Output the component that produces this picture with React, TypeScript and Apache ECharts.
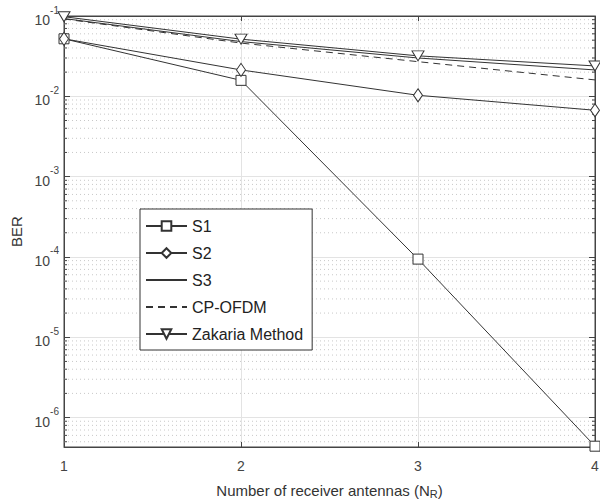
import React, { useEffect, useRef } from "react";
import * as echarts from "echarts";

const antennas = [1, 2, 3, 4];
const s1 = [0.052, 0.0158, 9.4e-5, 4.4e-7];
const s2 = [0.052, 0.0213, 0.0103, 0.0067];
const s3 = [0.093, 0.048, 0.0300, 0.0213];
const cpOfdm = [0.092, 0.046, 0.027, 0.016];
const zakaria = [0.098, 0.0515, 0.0319, 0.0239];
const seriesNames = ["S1", "S2", "S3", "CP-OFDM", "Zakaria Method"];

const yMin = 4.3e-7;
const yMax = 0.1;

const minorValues: number[] = [];
for (let e = -7; e <= -2; e++) {
  for (let m = 2; m <= 9; m++) {
    const v = m * Math.pow(10, e);
    if (v > yMin && v < yMax) minorValues.push(v);
  }
}

const FONT = "'Liberation Sans', Arial, Helvetica, sans-serif";
const LINE = "#333333";

function pairs(ys: number[]) {
  return antennas.map((x, i) => [x, ys[i]]);
}

export default function App() {
  const ref = useRef<HTMLDivElement>(null);
  useEffect(() => {
    if (!ref.current) return;
    const chart = echarts.init(ref.current, null, { renderer: "svg" });
    const marker = {
      color: "#ffffff",
      borderColor: LINE,
      borderWidth: 1,
    };
    const base = {
      type: "line",
      lineStyle: { color: LINE, width: 1 },
      itemStyle: marker,
      z: 5,
    };
    chart.setOption({
      animation: false,
      textStyle: { fontFamily: FONT },
      grid: {
        left: 64,
        right: 5,
        top: 16,
        bottom: 54,
        show: true,
        borderColor: "#444",
        borderWidth: 1,
        backgroundColor: "#fff",
        containLabel: false,
        outerBoundsMode: "none",
      },
      legend: {
        orient: "vertical",
        left: 140,
        top: 209,
        data: [
          { name: seriesNames[0] },
          { name: seriesNames[1] },
          { name: seriesNames[2], itemStyle: { opacity: 0 } },
          { name: seriesNames[3], itemStyle: { opacity: 0 } },
          { name: seriesNames[4] },
        ],
        backgroundColor: "#fff",
        borderColor: "#333",
        borderWidth: 1,
        borderRadius: 0,
        padding: [9, 9, 8, 5],
        itemWidth: 41,
        itemHeight: 12,
        itemGap: 11,
        textStyle: { fontSize: 16, color: "#222", fontFamily: FONT },
        inactiveColor: "#222",
      },
      xAxis: [
        {
          type: "value",
          min: 1,
          max: 4,
          interval: 1,
          name: "{a|Number of receiver antennas (N}{sub|R}{a|)}",
          nameLocation: "middle",
          nameGap: 34,
          nameTextStyle: {
            rich: {
              a: { fontSize: 15, color: "#333", fontFamily: FONT, lineHeight: 18 },
              sub: { fontSize: 11, color: "#333", fontFamily: FONT, lineHeight: 4, verticalAlign: "bottom" },
            },
          },
          axisLine: { lineStyle: { color: "#444" } },
          axisTick: { inside: true, length: 5, lineStyle: { color: "#444" } },
          axisLabel: { fontSize: 14, color: "#444", margin: 12, fontFamily: FONT },
          splitLine: { show: true, lineStyle: { color: "#e3e3e3", width: 1 } },
        },
        {
          type: "value",
          position: "top",
          min: 1,
          max: 4,
          interval: 1,
          axisLine: { show: true, lineStyle: { color: "#444" } },
          axisTick: { show: true, inside: true, length: 5, lineStyle: { color: "#444" } },
          axisLabel: { show: false },
          splitLine: { show: false },
        },
      ],
      yAxis: [
        {
          type: "log",
          logBase: 10,
          min: yMin,
          max: yMax,
          name: "BER",
          nameLocation: "middle",
          nameGap: 40,
          nameTextStyle: { fontSize: 15, color: "#333", fontFamily: FONT },
          axisLine: { show: true, lineStyle: { color: "#444" } },
          axisTick: { show: true, inside: true, length: 6, lineStyle: { color: "#444" } },
          axisLabel: {
            margin: 5,
            showMinLabel: false,
            formatter: (v: number) => {
              const e = Math.round(Math.log10(v));
              return `{b|10}{s|${e}}`;
            },
            rich: {
              b: { fontSize: 14, color: "#444", fontFamily: FONT, lineHeight: 22, verticalAlign: "bottom" },
              s: { fontSize: 10, color: "#444", fontFamily: FONT, lineHeight: 22, verticalAlign: "top" },
            },
          },
          splitLine: { show: true, lineStyle: { color: "#e3e3e3", width: 1 } },
        },
        {
          type: "log",
          logBase: 10,
          min: yMin,
          max: yMax,
          position: "right",
          axisLine: { show: true, lineStyle: { color: "#444" } },
          axisTick: { show: true, inside: true, length: 6, lineStyle: { color: "#444" } },
          axisLabel: { show: false },
          splitLine: { show: false },
        },
      ],
      series: [
        {
          name: "minor",
          type: "custom",
          silent: true,
          z: 1,
          xAxisIndex: 0,
          yAxisIndex: 0,
          data: minorValues.map((v) => [1, v]),
          encode: { x: 0, y: 1 },
          renderItem: (params: any, api: any) => {
            const y = api.coord([1, api.value(1)])[1];
            const cs = params.coordSys;
            const x0 = cs.x;
            const x1 = cs.x + cs.width;
            return {
              type: "group",
              children: [
                {
                  type: "line",
                  shape: { x1: x0, y1: y, x2: x1, y2: y },
                  style: { stroke: "#c8c8c8", lineWidth: 1, lineDash: [1, 3] },
                },
                {
                  type: "line",
                  shape: { x1: x0, y1: y, x2: x0 + 3, y2: y },
                  style: { stroke: "#444", lineWidth: 1 },
                },
                {
                  type: "line",
                  shape: { x1: x1 - 3, y1: y, x2: x1, y2: y },
                  style: { stroke: "#444", lineWidth: 1 },
                },
              ],
            };
          },
        },
        {
          ...base,
          name: seriesNames[0],
          data: pairs(s1),
          symbol: "rect",
          symbolSize: 10,
        },
        {
          ...base,
          name: seriesNames[1],
          data: pairs(s2),
          symbol: "diamond",
          symbolSize: [9, 13],
        },
        {
          ...base,
          name: seriesNames[2],
          data: pairs(s3),
          symbol: "none",
          showSymbol: false,
        },
        {
          ...base,
          name: seriesNames[3],
          data: pairs(cpOfdm),
          symbol: "none",
          showSymbol: false,
          lineStyle: { color: LINE, width: 1, type: [7, 5] },
        },
        {
          ...base,
          name: seriesNames[4],
          data: pairs(zakaria),
          symbol: "triangle",
          symbolRotate: 180,
          symbolSize: [12, 10],
        },
      ],
    });
    return () => chart.dispose();
  }, []);
  return <div ref={ref} style={{ width: 600, height: 501, position: "absolute", left: 0, top: 0 }} />;
}
